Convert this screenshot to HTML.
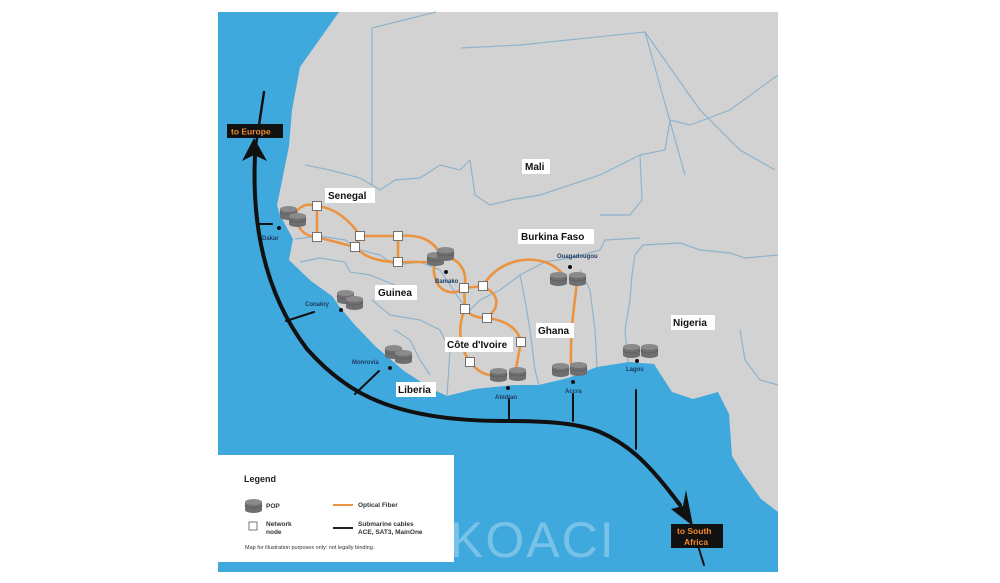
<!DOCTYPE html>
<html><head><meta charset="utf-8"><style>
html,body{margin:0;padding:0;background:#fff;width:1000px;height:583px;overflow:hidden}
svg{position:absolute;left:0;top:0}
text{font-family:"Liberation Sans",sans-serif}
</style></head><body>
<svg width="1000" height="583" viewBox="0 0 1000 583">
<defs>
<g id="cyl"><path d="M0,3 v8 a8.5,3 0 0 0 17,0 v-8 z" fill="#6e6e70"/><ellipse cx="8.5" cy="3" rx="8.5" ry="3" fill="#8a8a8c"/><path d="M0,6 a8.5,3 0 0 0 17,0" fill="none" stroke="#555" stroke-width="0.6"/></g>
</defs>
<rect x="218" y="12" width="560" height="560" fill="#3fa8dd"/>
<path d="M339,12 L300,67 L292,110 L289,146 L282,181 L277,205 L280,215 L293,239 L289,260 L311,281 L332,296 L339,306 L354,324 L375,346 L404,371 L432,389 L447,396 L475,389 L514,385 L539,385 L568,378 L597,367 L629,362 L654,364 L672,392 L693,399 L718,392 L729,414 L732,456 L743,474 L761,499 L778,512 L778,12 Z" fill="#d2d2d2"/>
<g fill="none" stroke="#8fb3cc" stroke-width="1.2">
<path d="M436,12 L372,28 L372,185 L380,190 L395,180 L420,178 L440,165 L460,170 L470,160"/>
<path d="M461,48 L520,45 L645,32 L700,110 L740,150 L775,170"/>
<path d="M645,32 L685,175"/>
<path d="M305,165 L330,170 L360,178 L372,185"/>
<path d="M470,160 L475,195 L490,205 L510,200 L540,195 L600,175 L640,155 L665,150 L670,120 L690,125 L730,110 L778,75"/>
<path d="M640,155 L642,200 L630,215 L600,215"/>
<path d="M295,239 L320,236 L345,240 L360,250 L380,255 L395,265 L420,262 L440,270"/>
<path d="M300,262 L320,258 L345,262 L350,272 L370,275 L395,285"/>
<path d="M440,270 L450,285 L460,300 L470,310 L480,300 L500,290 L520,275 L545,262 L570,258 L600,250"/>
<path d="M520,275 L525,300 L530,330 L535,370 L539,385"/>
<path d="M580,270 L590,290 L595,330 L597,367"/>
<path d="M635,255 L643,245 L680,243 L700,250 L730,253 L745,258 L778,255"/>
<path d="M635,255 L632,275 L630,300 L625,330 L628,362"/>
<path d="M372,300 L390,315 L420,320 L440,330 L450,350 L447,396"/>
<path d="M395,330 L410,340 L420,360 L430,375"/>
<path d="M740,330 L745,360 L760,380 L778,385"/>
<path d="M600,250 L605,240 L640,238"/>
</g>
<g fill="none" stroke="#111" stroke-linecap="round">
<path d="M264,92 L256,145" stroke-width="2.5"/>
<path d="M255,155 C252,220 262,290 307,349 C330,375 354,392 380,402 C420,418 470,421 504,421 C540,421 575,422 600,432 C630,445 650,465 680,505" stroke-width="4"/>
<path d="M690,520 L704,565" stroke-width="2"/>
<path d="M257,224 L272,224" stroke-width="2"/>
<path d="M286,321 L314,312" stroke-width="2"/>
<path d="M355,394 L379,371" stroke-width="2"/>
<path d="M509,421 L509,399" stroke-width="2"/>
<path d="M573,421 L573,394" stroke-width="2"/>
<path d="M636,449 L636,390" stroke-width="2"/>
</g>
<polygon points="254,138 242,161 254,155 267,161" fill="#111"/>
<polygon points="693,526 671,509 683,506 686,490" fill="#111"/>
<g fill="none" stroke="#ea9340" stroke-width="2.6">
<path d="M295,214 C300,205 308,203 317,206 C335,208 350,220 360,236 L398,236 C420,234 432,240 440,253"/>
<path d="M297,222 C300,232 308,237 317,237 L355,247 C365,258 380,262 398,262 L428,262"/>
<path d="M317,206 L317,237 M360,236 L355,247 M398,236 L398,262"/>
<path d="M450,258 C462,262 468,275 464,288 C455,296 440,292 437,282 C432,272 434,266 436,262"/>
<path d="M464,288 L483,286 M464,288 L465,309"/>
<path d="M483,286 C495,265 520,255 545,262 C555,266 560,270 566,278"/>
<path d="M483,286 C498,294 502,305 487,318"/>
<path d="M465,309 C470,316 478,318 487,318 C505,320 518,328 521,342 L516,368"/>
<path d="M465,309 C458,325 458,345 470,362 C478,372 485,375 495,376"/>
<path d="M577,282 C575,300 570,330 571,365"/>
</g>
<g fill="#fff" stroke="#555" stroke-width="0.8">
<rect x="312.5" y="201.5" width="9" height="9"/><rect x="312.5" y="232.5" width="9" height="9"/>
<rect x="355.5" y="231.5" width="9" height="9"/><rect x="350.5" y="242.5" width="9" height="9"/>
<rect x="393.5" y="231.5" width="9" height="9"/><rect x="393.5" y="257.5" width="9" height="9"/>
<rect x="459.5" y="283.5" width="9" height="9"/><rect x="478.5" y="281.5" width="9" height="9"/>
<rect x="460.5" y="304.5" width="9" height="9"/><rect x="482.5" y="313.5" width="9" height="9"/>
<rect x="516.5" y="337.5" width="9" height="9"/><rect x="465.5" y="357.5" width="9" height="9"/>
</g>
<use href="#cyl" x="280" y="206"/><use href="#cyl" x="289" y="213"/>
<use href="#cyl" x="427" y="252"/><use href="#cyl" x="437" y="247"/>
<use href="#cyl" x="550" y="272"/><use href="#cyl" x="569" y="272"/>
<use href="#cyl" x="490" y="368"/><use href="#cyl" x="509" y="367"/>
<use href="#cyl" x="552" y="363"/><use href="#cyl" x="570" y="362"/>
<use href="#cyl" x="337" y="290"/><use href="#cyl" x="346" y="296"/>
<use href="#cyl" x="385" y="345"/><use href="#cyl" x="395" y="350"/>
<use href="#cyl" x="623" y="344"/><use href="#cyl" x="641" y="344"/>
<g fill="#111"><circle cx="279" cy="228" r="2"/><circle cx="446" cy="272" r="2"/><circle cx="570" cy="267" r="2"/><circle cx="341" cy="310" r="2"/><circle cx="390" cy="368" r="2"/><circle cx="508" cy="388" r="2"/><circle cx="573" cy="382" r="2"/><circle cx="637" cy="361" r="2"/></g>
<g font-size="6" font-weight="bold" fill="#1c3b5e">
<text x="262" y="240">Dakar</text><text x="435" y="283">Bamako</text><text x="557" y="258">Ouagadougou</text>
<text x="305" y="306">Conakry</text><text x="352" y="364">Monrovia</text><text x="495" y="399">Abidjan</text>
<text x="565" y="393">Accra</text><text x="626" y="371">Lagos</text></g>
<g font-size="10" font-weight="bold" fill="#111">
<rect x="522" y="159" width="28" height="15" fill="#fff"/><text x="525" y="170">Mali</text>
<rect x="325" y="188" width="50" height="15" fill="#fff"/><text x="328" y="199">Senegal</text>
<rect x="518" y="229" width="76" height="15" fill="#fff"/><text x="521" y="240">Burkina Faso</text>
<rect x="375" y="285" width="42" height="15" fill="#fff"/><text x="378" y="296">Guinea</text>
<rect x="536" y="323" width="38" height="15" fill="#fff"/><text x="538" y="334">Ghana</text>
<rect x="671" y="315" width="44" height="15" fill="#fff"/><text x="673" y="326">Nigeria</text>
<rect x="445" y="337" width="68" height="15" fill="#fff"/><text x="447" y="348">Côte d'Ivoire</text>
<rect x="396" y="382" width="40" height="15" fill="#fff"/><text x="398" y="393">Liberia</text>
</g>
<rect x="227" y="124" width="56" height="14" fill="#111"/><text x="231" y="134.5" font-size="8.5" font-weight="bold" fill="#f08a30">to Europe</text>
<rect x="671" y="524" width="52" height="24" fill="#111"/><text x="677" y="534" font-size="8.5" font-weight="bold" fill="#f08a30">to South</text><text x="684" y="545" font-size="8.5" font-weight="bold" fill="#f08a30">Africa</text>
<rect x="218" y="455" width="236" height="107" fill="#fff"/>
<text x="244" y="482" font-size="9" font-weight="bold" fill="#222">Legend</text>
<use href="#cyl" x="245" y="499"/>
<text x="266" y="508" font-size="6.5" font-weight="bold" fill="#333">POP</text>
<line x1="333" y1="505" x2="353" y2="505" stroke="#ea9340" stroke-width="2"/>
<text x="358" y="507" font-size="6.5" font-weight="bold" fill="#333">Optical Fiber</text>
<rect x="249" y="522" width="8" height="8" fill="#fff" stroke="#555" stroke-width="0.8"/>
<text x="266" y="526" font-size="6.5" font-weight="bold" fill="#333">Network</text><text x="266" y="534" font-size="6.5" font-weight="bold" fill="#333">node</text>
<line x1="333" y1="528" x2="353" y2="528" stroke="#222" stroke-width="2"/>
<text x="358" y="526" font-size="6.5" font-weight="bold" fill="#333">Submarine cables</text><text x="358" y="534" font-size="6.5" font-weight="bold" fill="#333">ACE, SAT3, MainOne</text>
<text x="245" y="549" font-size="5.5" fill="#333">Map for illustration purposes only: not legally binding.</text>
<text x="450" y="557" font-size="50" fill="#fff" fill-opacity="0.3" letter-spacing="2">KOACI</text>
</svg>
</body></html>
